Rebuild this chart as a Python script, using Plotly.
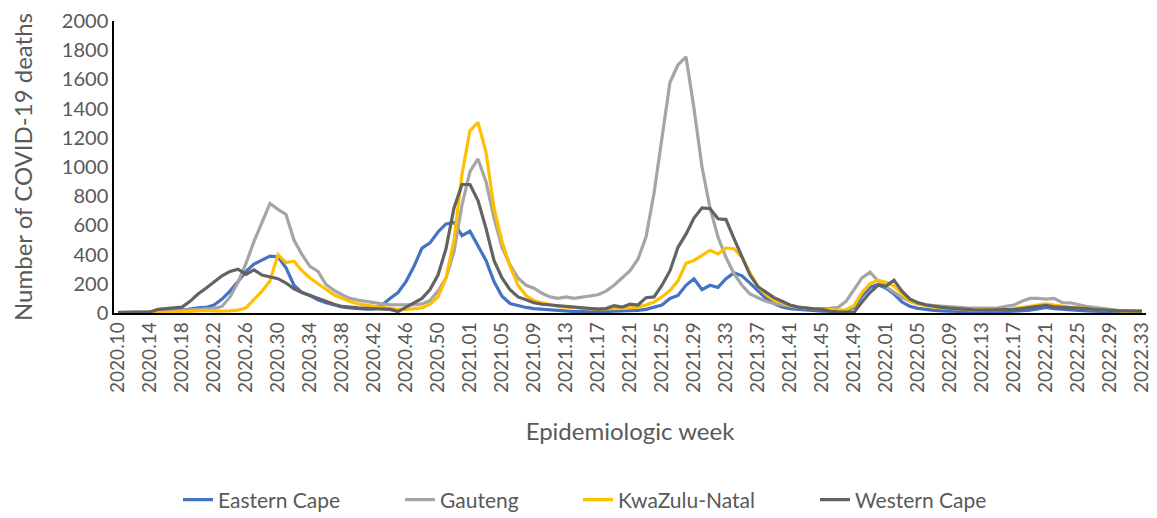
import plotly.graph_objects as go

# epi weeks: 2020.10-2020.53, 2021.01-2021.52, 2022.01-2022.33
weeks = [f"2020.{w:02d}" for w in range(10, 54)] \
    + [f"2021.{w:02d}" for w in range(1, 53)] \
    + [f"2022.{w:02d}" for w in range(1, 34)]

# weekly COVID-19 deaths
eastern_cape = [
    2, 3, 3, 4, 5, 6, 8, 12, 18, 28, 35, 38, 55, 95, 150, 215, 285, 335, 365, 390,
    385, 310, 190, 140, 120, 90, 70, 55, 42, 35, 30, 26, 28, 55, 100, 140, 215, 320,
    445, 480, 555, 610, 620, 530,
    560, 455, 360, 215, 115, 65, 50, 38, 30, 25, 20, 15, 12, 10, 10, 9, 9, 10, 12,
    14, 15, 18, 25, 38, 55, 100, 120, 190, 235, 160, 190, 175, 235, 275, 255, 205,
    150, 100, 65, 42, 30, 25, 20, 15, 13, 12, 12, 12, 40, 115, 175, 195,
    170, 130, 75, 45, 32, 24, 18, 15, 12, 10, 9, 9, 8, 8, 9, 10, 12, 15, 20, 28,
    38, 30, 25, 22, 18, 15, 12, 10, 8, 7, 6, 6, 5,
]
gauteng = [
    5, 5, 6, 8, 10, 12, 15, 20, 22, 25, 25, 28, 30, 45, 110, 210, 340, 490, 620, 750,
    710, 675, 500, 400, 320, 285, 195, 155, 125, 100, 88, 78, 70, 62, 58, 55, 55, 58,
    62, 85, 150, 240, 420, 740,
    970, 1055, 900, 650, 450, 330, 240, 190, 170, 135, 110, 100, 110, 100, 110, 115,
    125, 150, 190, 240, 290, 370, 520, 820, 1200, 1580, 1700, 1755, 1400, 1000, 720,
    520, 380, 270, 190, 130, 105, 80, 65, 55, 45, 38, 32, 30, 30, 32, 38, 80, 160,
    240, 280, 220,
    180, 145, 105, 80, 68, 58, 50, 45, 40, 36, 35, 33, 33, 33, 36, 45, 55, 80, 100,
    100, 95, 100, 72, 70, 55, 45, 38, 30, 22, 18, 15, 14, 13,
]
kwazulu_natal = [
    1, 1, 2, 2, 3, 4, 5, 6, 8, 12, 15, 18, 15, 12, 15, 20, 35, 90, 150, 220,
    400, 345, 355, 290, 240, 200, 160, 125, 100, 78, 62, 52, 45, 38, 30, 25, 25, 28,
    35, 60, 110, 240, 500, 950,
    1250, 1305, 1100, 720, 490, 320, 190, 120, 85, 70, 55, 45, 40, 35, 30, 28, 27,
    27, 30, 32, 35, 40, 55, 75, 110, 155, 220, 340, 360, 395, 430, 405, 445, 440,
    380, 275, 180, 125, 90, 70, 50, 40, 33, 28, 25, 22, 20, 22, 50, 140, 200, 225,
    210, 185, 130, 80, 60, 48, 40, 35, 30, 26, 22, 20, 20, 20, 22, 25, 30, 35, 45,
    55, 62, 55, 45, 40, 35, 30, 25, 20, 15, 12, 10, 9, 8,
]
western_cape = [
    2, 3, 4, 5, 6, 25, 30, 35, 40, 80, 130, 170, 215, 255, 285, 300, 265, 295, 260,
    245, 235, 205, 165, 140, 120, 95, 78, 60, 45, 38, 35, 32, 30, 28, 25, 10, 40, 65,
    100, 160, 260, 440, 720, 880,
    880, 770, 580, 360, 240, 160, 110, 90, 70, 60, 55, 50, 45, 38, 32, 28, 27, 30,
    50, 40, 60, 55, 105, 110, 190, 290, 450, 540, 650, 720, 715, 645, 640, 510, 380,
    260, 180, 140, 105, 80, 55, 40, 32, 28, 25, 12, 8, 8, 5, 75, 140, 190,
    185, 225, 150, 95, 70, 55, 45, 38, 33, 28, 25, 22, 20, 20, 20, 22, 25, 30, 38,
    45, 52, 42, 40, 35, 33, 30, 25, 20, 16, 14, 14, 14, 13,
]

series = [
    ("Eastern Cape", eastern_cape, "#4472C4"),
    ("Gauteng", gauteng, "#A5A5A5"),
    ("KwaZulu-Natal", kwazulu_natal, "#FFC000"),
    ("Western Cape", western_cape, "#636363"),
]
# left edge (px inside the figure) of each legend entry, like the Excel legend
legend_left = [170, 392, 570, 807]

FONT = "Lato"
GREY = "#595959"
# the page body has an 8px margin, so the figure is drawn 8px smaller
W, H = 1149, 510

fig = go.Figure()
legends = {}
for k, (name, vals, col) in enumerate(series):
    lg = "legend" if k == 0 else f"legend{k + 1}"
    fig.add_trace(go.Scatter(x=weeks, y=vals, name=name, mode="lines",
                             line=dict(color=col, width=3.2), legend=lg))
    legends[lg] = dict(orientation="h", xref="container", yref="container",
                       x=legend_left[k] / W, xanchor="left", y=18 / H, yanchor="middle",
                       bgcolor="rgba(0,0,0,0)",
                       font=dict(family=FONT, size=21, color=GREY))

fig.update_xaxes(
    type="category", range=[-0.5, len(weeks) - 0.5], automargin=False,
    tickmode="array", tickvals=weeks[::4], ticktext=weeks[::4],
    tickangle=-90, tickfont=dict(family=FONT, size=19, color=GREY),
    showline=True, linecolor="#000000", linewidth=1.5, showgrid=False,
    ticks="", title=dict(text="Epidemiologic week", standoff=31,
                         font=dict(family=FONT, size=24, color=GREY)),
)
fig.update_yaxes(
    range=[0, 2000], dtick=200, showline=True, linecolor="#000000", linewidth=1.5,
    showgrid=False, zeroline=False, ticks="", automargin=False,
    ticklabeloverflow="allow",
    tickfont=dict(family=FONT, size=20, color=GREY),
    title=dict(text="Number of COVID-19 deaths", standoff=28,
               font=dict(family=FONT, size=24, color=GREY)),
)
fig.update_layout(
    width=W, height=H,
    margin=dict(l=106, r=11, t=13, b=205),
    plot_bgcolor="white", paper_bgcolor="white",
    showlegend=True,
    **legends,
)

fig.write_html("out.html")
